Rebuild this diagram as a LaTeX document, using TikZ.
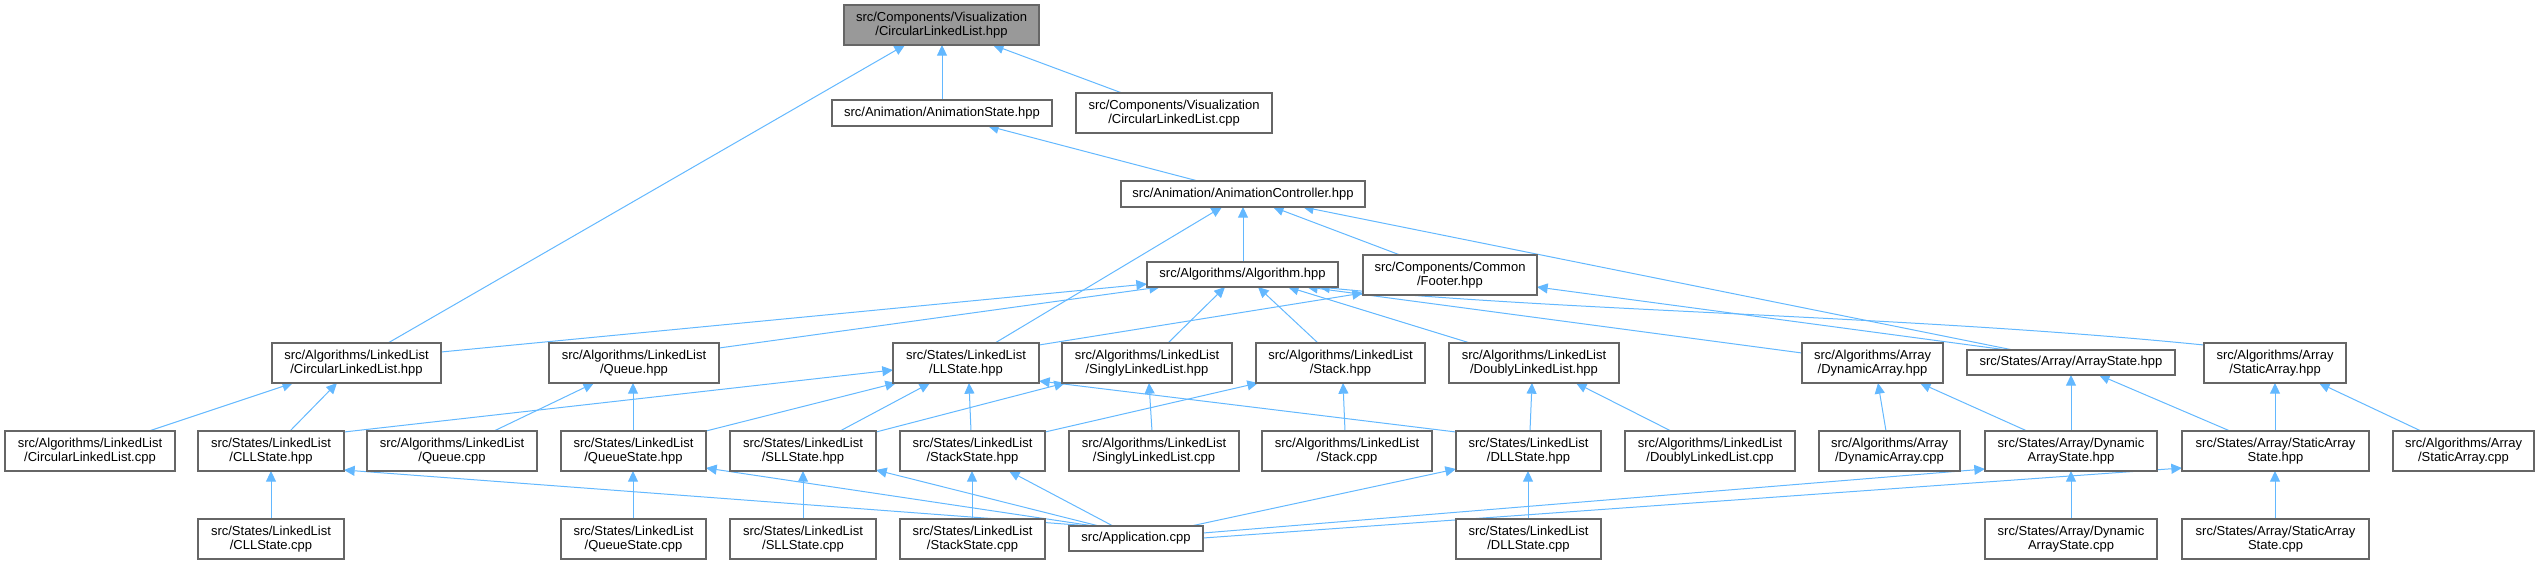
\documentclass[tikz,border=0pt]{standalone}
\usepackage{fontspec}
\setmainfont{Liberation Sans}
\usetikzlibrary{arrows.meta,calc,backgrounds}
\definecolor{edgec}{HTML}{63B8FF}
\definecolor{bord}{HTML}{666666}
\definecolor{topfill}{HTML}{999999}
\tikzset{
  box/.style={draw=bord, line width=0.8pt, fill=white, inner sep=0pt, outer sep=0pt,
    align=center, font=\fontsize{9.75pt}{10.75pt}\selectfont},
  topbox/.style={box, fill=topfill},
  edg/.style={draw=edgec, line width=0.75pt, -{Triangle[length=8pt,width=7.5pt]}}
}
\newcommand\bx[7][box]{%
  \pgfmathsetmacro\boxwd{(#5-#3)*0.75}%
  \pgfmathsetmacro\boxht{(#6-#4)*0.75}%
  \node[#1, minimum width=\boxwd pt, minimum height=\boxht pt] (#2) at ({(#3+#5)/2},{(#4+#6)/2}) {#7};}
\newcommand\E[4]{\draw[edg] ($(#1.north west)+(#2,0)$) -- ($(#3.south west)+(#4,0)$);}
\begin{document}
\begin{tikzpicture}[x=0.75pt,y=-0.75pt]
\useasboundingbox (0,0) rectangle (2539,564);
% row 0
\bx[topbox]{N0}{844}{5}{1039}{45}{src/Components/Visualization\\/CircularLinkedList.hpp}
% row 1
\bx{AnimState}{832}{100}{1052}{126}{src/Animation/AnimationState.hpp}
\bx{VisCLLcpp}{1076}{93}{1272}{133}{src/Components/Visualization\\/CircularLinkedList.cpp}
% row 2
\bx{AnimCtrl}{1121}{181}{1365}{207}{src/Animation/AnimationController.hpp}
% row 3
\bx{Algorithm}{1147}{262}{1338}{287}{src/Algorithms/Algorithm.hpp}
\bx{Footer}{1363}{255}{1537}{295}{src/Components/Common\\/Footer.hpp}
% row 4
\bx{AlgCLL}{272}{343}{441}{383}{src/Algorithms/LinkedList\\/CircularLinkedList.hpp}
\bx{Queue}{549}{343}{719}{383}{src/Algorithms/LinkedList\\/Queue.hpp}
\bx{LLState}{893}{343}{1039}{383}{src/States/LinkedList\\/LLState.hpp}
\bx{SLL}{1062}{343}{1232}{383}{src/Algorithms/LinkedList\\/SinglyLinkedList.hpp}
\bx{Stack}{1256}{343}{1425}{383}{src/Algorithms/LinkedList\\/Stack.hpp}
\bx{DLL}{1449}{343}{1619}{383}{src/Algorithms/LinkedList\\/DoublyLinkedList.hpp}
\bx{DynArr}{1802}{343}{1943}{383}{src/Algorithms/Array\\/DynamicArray.hpp}
\bx{ArrayState}{1967}{350}{2175}{375}{src/States/Array/ArrayState.hpp}
\bx{StaticArr}{2204}{343}{2346}{383}{src/Algorithms/Array\\/StaticArray.hpp}
% row 5
\bx{CLLcpp}{5}{431}{175}{471}{src/Algorithms/LinkedList\\/CircularLinkedList.cpp}
\bx{CLLState}{198}{431}{344}{471}{src/States/LinkedList\\/CLLState.hpp}
\bx{Queuecpp}{367}{431}{537}{471}{src/Algorithms/LinkedList\\/Queue.cpp}
\bx{QueueState}{561}{431}{706}{471}{src/States/LinkedList\\/QueueState.hpp}
\bx{SLLState}{730}{431}{876}{471}{src/States/LinkedList\\/SLLState.hpp}
\bx{StackState}{900}{431}{1045}{471}{src/States/LinkedList\\/StackState.hpp}
\bx{SLLcpp}{1069}{431}{1239}{471}{src/Algorithms/LinkedList\\/SinglyLinkedList.cpp}
\bx{Stackcpp}{1262}{431}{1432}{471}{src/Algorithms/LinkedList\\/Stack.cpp}
\bx{DLLState}{1456}{431}{1601}{471}{src/States/LinkedList\\/DLLState.hpp}
\bx{DLLcpp}{1625}{431}{1795}{471}{src/Algorithms/LinkedList\\/DoublyLinkedList.cpp}
\bx{DynArrcpp}{1819}{431}{1960}{471}{src/Algorithms/Array\\/DynamicArray.cpp}
\bx{DynArrState}{1985}{431}{2157}{471}{src/States/Array/Dynamic\\ArrayState.hpp}
\bx{StaticArrState}{2182}{431}{2369}{471}{src/States/Array/StaticArray\\State.hpp}
\bx{StaticArrcpp}{2393}{431}{2534}{471}{src/Algorithms/Array\\/StaticArray.cpp}
% row 6
\bx{CLLStatecpp}{198}{519}{344}{559}{src/States/LinkedList\\/CLLState.cpp}
\bx{QueueStatecpp}{561}{519}{706}{559}{src/States/LinkedList\\/QueueState.cpp}
\bx{SLLStatecpp}{730}{519}{876}{559}{src/States/LinkedList\\/SLLState.cpp}
\bx{StackStatecpp}{900}{519}{1045}{559}{src/States/LinkedList\\/StackState.cpp}
\bx{App}{1069}{526}{1203}{551}{src/Application.cpp}
\bx{DLLStatecpp}{1456}{519}{1601}{559}{src/States/LinkedList\\/DLLState.cpp}
\bx{DynArrStatecpp}{1985}{519}{2157}{559}{src/States/Array/Dynamic\\ArrayState.cpp}
\bx{StaticArrStatecpp}{2182}{519}{2369}{559}{src/States/Array/StaticArray\\State.cpp}

\begin{scope}[on background layer]
\E{AlgCLL}{116}{N0}{61}
\E{AnimState}{110}{N0}{98}
\E{VisCLLcpp}{46}{N0}{149}
\E{AnimCtrl}{77}{AnimState}{156}
\E{Algorithm}{96}{AnimCtrl}{122}
\E{LLState}{102}{AnimCtrl}{101}
\E{Footer}{37}{AnimCtrl}{152}
\E{ArrayState}{46}{AnimCtrl}{182}
\draw[edg] ($(AlgCLL.north east)+(0,9)$) -- ($(Algorithm.north west)+(0,22)$);
\draw[edg] ($(Queue.north east)+(0,5)$) -- ($(Algorithm.south west)+(13,0)$);
\E{SLL}{106}{Algorithm}{78}
\E{Stack}{62}{Algorithm}{111}
\E{DLL}{21}{Algorithm}{141}
\draw[edg] ($(DynArr.north west)+(0,10)$) -- ($(Algorithm.south west)+(160,0)$);
\draw[edg] ($(StaticArr.north west)+(0,2)$) .. controls +(-300,-30) and +(250,25) .. ($(Algorithm.south west)+(172,0)$);
\draw[edg] ($(LLState.north east)+(0,2)$) -- ($(Footer.south west)+(0,-2)$);
\draw[edg] ($(ArrayState.north west)+(40,0)$) -- ($(Footer.north east)+(0,32)$);
\E{CLLcpp}{144}{AlgCLL}{21}
\E{CLLState}{92}{AlgCLL}{65}
\E{Queuecpp}{127}{Queue}{45}
\E{QueueState}{72}{Queue}{84}
\draw[edg] ($(CLLState.north east)+(0,1)$) -- ($(LLState.north west)+(0,27)$);
\draw[edg] (QueueState.north east) -- ($(LLState.south west)+(3,0)$);
\E{SLLState}{110}{LLState}{37}
\E{StackState}{71}{LLState}{76}
\draw[edg] ($(DLLState.north west)+(0,1)$) -- ($(LLState.south east)+(0,-2)$);
\E{SLLcpp}{83}{SLL}{87}
\draw[edg] ($(SLLState.north east)+(0,1)$) -- ($(SLL.south west)+(3,0)$);
\E{Stackcpp}{83}{Stack}{87}
\draw[edg] ($(StackState.north east)+(0,1)$) -- ($(Stack.south west)+(2,0)$);
\E{DLLState}{74}{DLL}{83}
\E{DLLcpp}{46}{DLL}{127}
\E{DynArrcpp}{67}{DynArr}{76}
\E{DynArrState}{42}{DynArr}{118}
\E{DynArrState}{86}{ArrayState}{104}
\E{StaticArrState}{48}{ArrayState}{132}
\E{StaticArrState}{93}{StaticArr}{71}
\E{StaticArrcpp}{28}{StaticArr}{115}
\E{CLLStatecpp}{73}{CLLState}{73}
\E{QueueStatecpp}{72}{QueueState}{72}
\E{SLLStatecpp}{73}{SLLState}{73}
\E{StackStatecpp}{72}{StackState}{72}
\E{DLLStatecpp}{72}{DLLState}{72}
\E{DynArrStatecpp}{86}{DynArrState}{86}
\E{StaticArrStatecpp}{93}{StaticArrState}{93}
\draw[edg] ($(App.north west)+(22,0)$) -- ($(CLLState.south east)+(0,-1)$);
\draw[edg] ($(App.north west)+(25,0)$) -- ($(QueueState.south east)+(0,-3)$);
\draw[edg] ($(App.north west)+(30,0)$) -- ($(SLLState.south east)+(0,-1)$);
\draw[edg] ($(App.north west)+(44,0)$) -- ($(StackState.south west)+(109,0)$);
\draw[edg] ($(App.north east)+(-12,0)$) -- ($(DLLState.south west)+(0,-2)$);
\draw[edg] ($(App.north east)+(0,7)$) -- ($(DynArrState.south west)+(0,-2)$);
\draw[edg] ($(App.north east)+(0,12)$) -- ($(StaticArrState.south west)+(0,-3)$);
\end{scope}
\end{tikzpicture}
\end{document}
